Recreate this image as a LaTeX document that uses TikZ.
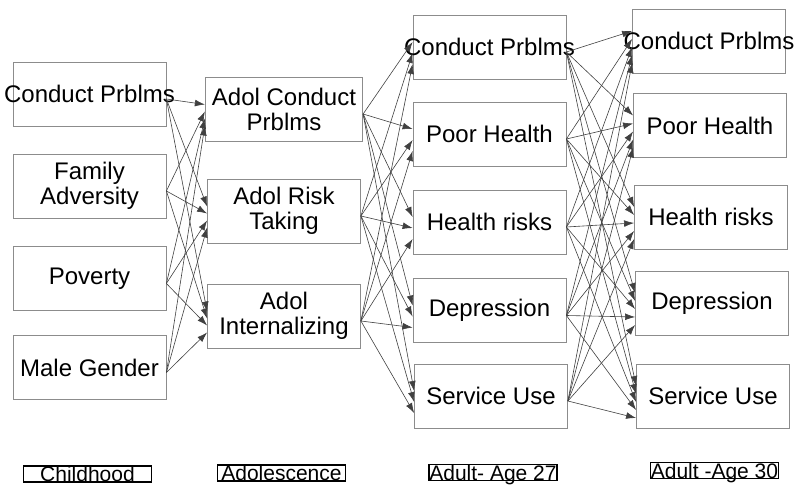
\documentclass[tikz,border=0pt]{standalone}
\usepackage{fontspec}
\setmainfont{Liberation Sans}
\usepackage{tikz}
\usetikzlibrary{arrows}
\usetikzlibrary{arrows.meta}
\tikzset{>=latex}
\tikzstyle{box} = [rectangle, draw=black!45, line width=0.4pt, minimum width=76.5pt, minimum height=32pt, align=center, font=\fontsize{12}{12.5}\selectfont]
\tikzstyle{era} = [rectangle, draw=black, line width=0.6pt, minimum width=64pt, minimum height=8pt, inner sep=0pt, text height=7.6pt, text depth=0pt, font=\fontsize{10.5}{10.5}\selectfont]
\tikzstyle{link} = [-{Latex[length=5pt, width=3.4pt]}, draw=black!75, line width=0.3pt]

\begin{document}
\begin{tikzpicture}[x=0.5pt, y=-0.5pt]
\useasboundingbox (0, 0) rectangle (800, 491);
% childhood
\node [box] (CP1) at (89.5, 94) {\makebox[0pt]{Conduct Prblms}};
\node [box] (FA) at (89.5, 186) {Family\\Adversity};
\node [box] (POV) at (89.5, 278.5) {Poverty};
\node [box] (MG) at (89.5, 367.5) {Male Gender};
% adolescence
\node [box] (ACP) at (284, 109) {Adol Conduct\\Prblms};
\node [box] (ART) at (284, 211) {Adol Risk\\Taking};
\node [box] (AI) at (284, 316) {Adol\\Internalizing};
% age 27
\node [box] (CP27) at (489.5, 47) {\makebox[0pt]{Conduct Prblms}};
\node [box] (PH27) at (489.5, 134) {Poor Health};
\node [box] (HR27) at (489.5, 222) {Health risks};
\node [box] (DEP27) at (489.5, 310.5) {Depression};
\node [box] (SU27) at (491, 396) {Service Use};
% age 30
\node [box] (CP30) at (709, 41) {\makebox[0pt]{Conduct Prblms}};
\node [box] (PH30) at (710, 125.5) {Poor Health};
\node [box] (HR30) at (711, 217) {Health risks};
\node [box] (DEP30) at (712, 303) {Depression};
\node [box] (SU30) at (713, 396) {Service Use};
% periods
\node [era] (T1) at (87.5, 474) {Childhood};
\node [era] (T2) at (281.5, 473) {Adolescence};
\node [era] (T3) at (493, 472.5) {Adult- Age 27};
\node [era] (T4) at (714.5, 470.5) {Adult -Age 30};
% paths
\foreach \s [count=\i] in {CP1, FA, POV, MG}
  \foreach \t in {ACP, ART, AI}
    \draw [link] ([yshift=-2.5pt]\s.east) -- ([yshift={-3pt-3.5pt*(\i-2.5)}]\t.west);
\foreach \s [count=\i] in {ACP, ART, AI}
  \foreach \t in {CP27, PH27, HR27, DEP27, SU27}
    \draw [link] ([yshift=-2.5pt]\s.east) -- ([yshift={-3pt-5.5pt*(\i-2)}]\t.west);
\foreach \s [count=\i] in {CP27, PH27, HR27, DEP27, SU27}
  \foreach \t in {CP30, PH30, HR30, DEP30, SU30}
    \draw [link] ([yshift=-2.5pt]\s.east) -- ([yshift={-3pt-4pt*(\i-3)}]\t.west);
\end{tikzpicture}
\end{document}
